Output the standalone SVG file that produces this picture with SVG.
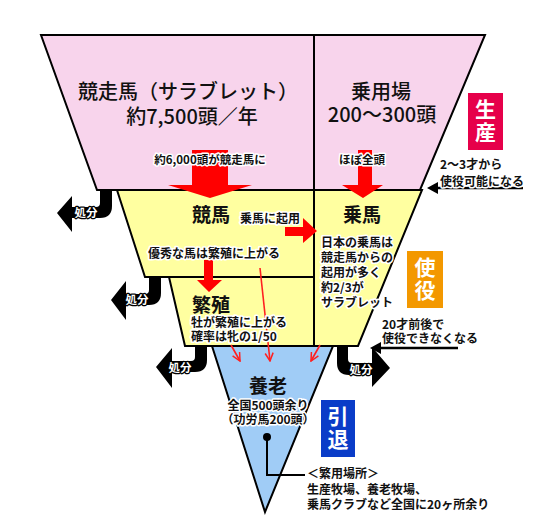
<svg xmlns="http://www.w3.org/2000/svg" width="550" height="525" viewBox="0 0 550 525">
<defs>
<style>
text{font-family:"Noto Sans CJK JP","Noto Sans",sans-serif;}
.big{font-size:20px;font-weight:500;fill:#111;}
.hd{font-size:19px;font-weight:bold;fill:#111;}
.lb{font-size:12px;font-weight:bold;fill:#111;stroke:#fff;stroke-width:3;paint-order:stroke;stroke-linejoin:round;}
.dis{font-size:11.5px;font-weight:bold;fill:#fff;stroke:#000;stroke-width:2.5;paint-order:stroke;stroke-linejoin:round;}
.box{font-size:21px;font-weight:bold;fill:#fff;writing-mode:vertical-rl;letter-spacing:2px;}
.sec{stroke:#000;stroke-width:2;stroke-linejoin:miter;}
.red{fill:#ff0000;}
.thin{stroke:#ff2020;stroke-width:1.6;fill:none;marker-end:url(#v);}
.blk{fill:#000;}
</style>
<marker id="v" viewBox="0 0 10 10" refX="9" refY="5" markerWidth="10" markerHeight="10" orient="auto" markerUnits="userSpaceOnUse">
<path d="M1,1 L9,5 L1,9" fill="none" stroke="#ff2020" stroke-width="1.5"/>
</marker>
</defs>

<g id="shapes">
<g id="node-keiba-top"><polygon class="sec" points="41,35 314,35 314,190 97,190" fill="#f8d4ec"/></g>
<g id="node-joyo-top"><polygon class="sec" points="314,35 485,35 420,190 314,190" fill="#f8d4ec"/></g>
<g id="node-keiba"><polygon class="sec" points="117,190 314,190 314,277 145,277" fill="#ffffa0"/></g>
<g id="node-joba"><polygon class="sec" points="314,190 422,190 358,346 314,346" fill="#ffffa0"/></g>
<g id="node-hanshoku"><polygon class="sec" points="169,277 314,277 314,346 185,346" fill="#ffffa0"/></g>
<g id="node-yoro"><polygon class="sec" points="212,346 333,346 265,512" fill="#a0ccf6"/></g>
</g>

<g id="connectors">
<polygon class="red" points="192,150 228,150 228,185 252,185 210,198 168,185 192,185"/>
<polygon class="red" points="358,150 372,150 372,185 383,185 363,198 342,185 358,185"/>
<polygon class="red" points="285,227 303,227 303,218 317,231 303,243 303,236 285,236"/>
<polygon class="red" points="204,260 213,260 213,280 222,280 209,292 197,280 204,280"/>
<line class="thin" x1="260" y1="268" x2="270" y2="361"/>
<line class="thin" x1="231" y1="345" x2="240" y2="361"/>
<line class="thin" x1="320" y1="345" x2="311" y2="361"/>
<path class="blk" d="M100,190 H112 V206 Q112,218 100,218 H72 V232 L57,213 L72,196 V207 H96 Q100,207 100,203 Z"/>
<path class="blk" d="M149,277 H161 V293 Q161,305 149,305 H126 V320 L111,300 L126,281 V294 H145 Q149,294 149,290 Z"/>
<path class="blk" d="M195,346 H207 V360 Q207,372 195,372 H172 V388 L156,367 L172,348 V361 H191 Q195,361 195,357 Z"/>
<path class="blk" d="M348,346 H337 V363 Q337,375 349,375 H372 V387 L390,368 L372,347 V363 H352 Q348,363 348,359 Z"/>
<line x1="523" y1="188" x2="434" y2="188" stroke="#000" stroke-width="2.5"/>
<polygon class="blk" points="427,188 438,182 438,194"/>
<line x1="458" y1="348" x2="377" y2="348" stroke="#000" stroke-width="2.5"/>
<polygon class="blk" points="370,348 381,342 381,354"/>
<circle cx="267" cy="437" r="4" fill="#000"/>
<polyline points="267,437 267,475 305,475" fill="none" stroke="#000" stroke-width="2"/>
</g>

<g id="labels">
<text class="big" text-anchor="middle"><tspan x="188" y="99">競走馬（サラブレット）</tspan><tspan x="192" y="124">約7,500頭／年</tspan></text>
<text class="big" text-anchor="middle"><tspan x="381" y="99">乗用場</tspan><tspan x="382" y="122">200〜300頭</tspan></text>
<text class="lb" x="210" y="164" text-anchor="middle" style="font-size:11.5px">約6,000頭が競走馬に</text>
<text class="lb" x="362" y="164" text-anchor="middle" style="font-size:11.5px">ほぼ全頭</text>
<text class="hd" x="211" y="222" text-anchor="middle">競馬</text>
<text class="lb" x="270" y="223" text-anchor="middle">乗馬に起用</text>
<text class="hd" x="362" y="222" text-anchor="middle">乗馬</text>
<text class="lb" x="214" y="258" text-anchor="middle">優秀な馬は繁殖に上がる</text>
<text class="hd" x="211" y="312" text-anchor="middle">繁殖</text>
<text class="lb"><tspan x="191" y="327">牡が繁殖に上がる</tspan><tspan x="191" y="341">確率は牝の1/50</tspan></text>
<text class="lb"><tspan x="321" y="247">日本の乗馬は</tspan><tspan x="321" y="262">競走馬からの</tspan><tspan x="321" y="277">起用が多く</tspan><tspan x="321" y="292">約2/3が</tspan><tspan x="321" y="307">サラブレット</tspan></text>
<text class="hd" x="268" y="393" text-anchor="middle">養老</text>
<text class="lb" text-anchor="middle"><tspan x="268" y="410">全国500頭余り</tspan><tspan x="268" y="424">（功労馬200頭）</tspan></text>
<text class="dis" x="86" y="217" text-anchor="middle">処分</text>
<text class="dis" x="137" y="304" text-anchor="middle">処分</text>
<text class="dis" x="180" y="372" text-anchor="middle">処分</text>
<text class="dis" x="361" y="374" text-anchor="middle">処分</text>
<text class="lb"><tspan x="440" y="169">2〜3才から</tspan><tspan x="440" y="186">使役可能になる</tspan></text>
<text class="lb"><tspan x="382" y="329">20才前後で</tspan><tspan x="382" y="343">使役できなくなる</tspan></text>
<text class="lb"><tspan x="307" y="478">＜繁用場所＞</tspan><tspan x="307" y="494">生産牧場、養老牧場、</tspan><tspan x="307" y="509">乗馬クラブなど全国に20ヶ所余り</tspan></text>
</g>

<g id="stage-boxes">
<g id="box-seisan"><rect x="468" y="93" width="35" height="57" fill="#e6004a"/>
<text class="box" x="485.5" y="121.5" text-anchor="middle">生産</text></g>
<g id="box-shieki"><rect x="407" y="251" width="36" height="57" fill="#f39800"/>
<text class="box" x="425" y="279.5" text-anchor="middle">使役</text></g>
<g id="box-intai"><rect x="321" y="400" width="34" height="57" fill="#0a3cc8"/>
<text class="box" x="338" y="428.5" text-anchor="middle">引退</text></g>
</g>
</svg>
